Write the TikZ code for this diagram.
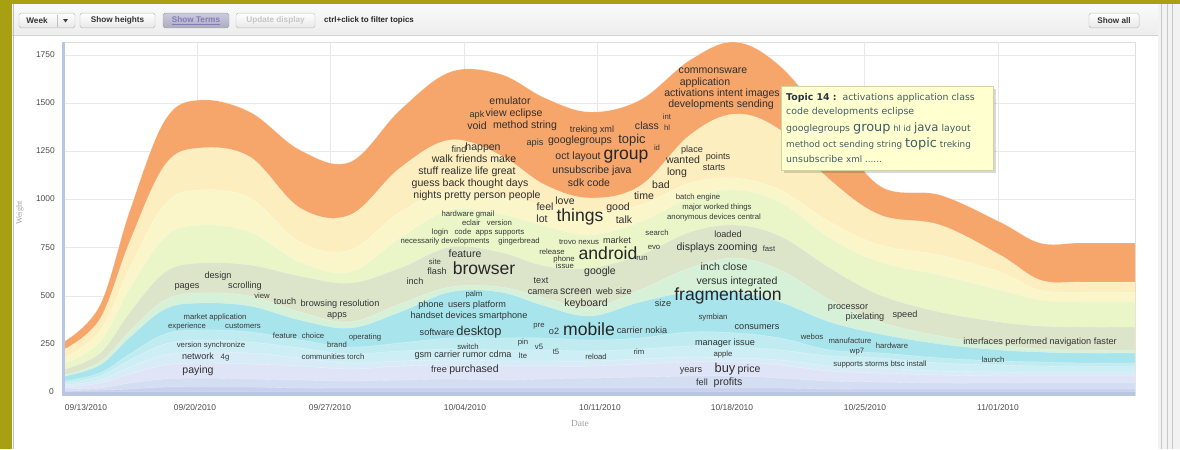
\documentclass[tikz,border=0pt]{standalone}
\usepackage{color}
\usepackage{fontspec}
\setmainfont{Liberation Sans}
\newfontfamily\tipfont{DejaVu Sans}
\newfontfamily\serifaxis{Liberation Serif}
\usepackage{tikz}

\definecolor{olivebar}{RGB}{168,160,18}
\definecolor{lay1}{RGB}{246,166,107}
\definecolor{lay2}{RGB}{252,238,190}
\definecolor{lay3}{RGB}{250,246,202}
\definecolor{lay4}{RGB}{234,245,200}
\definecolor{lay5}{RGB}{220,229,202}
\definecolor{lay6}{RGB}{214,241,216}
\definecolor{lay7}{RGB}{168,228,236}
\definecolor{lay8}{RGB}{192,236,241}
\definecolor{lay9}{RGB}{206,238,245}
\definecolor{lay10}{RGB}{215,236,247}
\definecolor{lay11}{RGB}{224,228,247}
\definecolor{lay12}{RGB}{212,222,243}
\definecolor{lay13}{RGB}{198,210,237}
\definecolor{axisblue}{RGB}{184,198,226}
\definecolor{tipfill}{RGB}{255,255,208}
\definecolor{tipedge}{RGB}{210,210,165}
\definecolor{tiptext}{RGB}{62,92,104}
\definecolor{tipdark}{RGB}{38,52,66}
\definecolor{termsfill}{RGB}{204,202,224}
\definecolor{termstext}{RGB}{128,126,180}

\begin{document}
\begin{tikzpicture}[x=0.03cm, y=-0.03cm]
% Define styles
\tikzstyle{layer} = [draw=white, draw opacity=0.45, line width=0.3pt]
\tikzstyle{wtiny} = [inner sep=0pt, text=black!78, text height=4.8pt, text depth=1.3pt, font=\fontsize{6.6}{7}\selectfont]
\tikzstyle{wsmall} = [inner sep=0pt, text=black!80, text height=5.6pt, text depth=1.6pt, font=\fontsize{7.8}{8}\selectfont]
\tikzstyle{wmed} = [inner sep=0pt, text=black!82, text height=6.5pt, text depth=1.9pt, font=\fontsize{9}{10}\selectfont]
\tikzstyle{wbig} = [inner sep=0pt, text=black!82, text height=8pt, text depth=2.3pt, font=\fontsize{11}{12}\selectfont]
\tikzstyle{whuge} = [inner sep=0pt, text=black!85, text height=10.8pt, text depth=3.2pt, font=\fontsize{15}{16}\selectfont]
\tikzstyle{button} = [draw=gray!55, rounded corners=1.5pt, top color=white, bottom color=gray!18, minimum height=0.44cm, inner sep=0pt, font=\fontsize{7}{8}\selectfont\bfseries, text=black!80]
\tikzstyle{tick} = [inner sep=0pt, text=black!70, font=\fontsize{7.2}{8}\selectfont]
\tikzstyle{grid} = [gray!18, line width=0.4pt]
\tikzstyle{tipline} = [inner sep=0pt, anchor=base west, text=tiptext, font=\tipfont\fontsize{8}{9}\selectfont]

\useasboundingbox (0,0) rectangle (1180,449);
\fill[white] (0,0) rectangle (1180,449);

% Window frame and toolbar
\fill[olivebar] (0,0) rectangle (1180,4);
\fill[olivebar] (0,0) rectangle (12,449);
\fill[top color=gray!4, bottom color=gray!14] (12,4) rectangle (1158,35);
\draw[gray!35] (12,35) -- (1158,35);
\draw[gray!50] (13,4) -- (13,449);
\fill[gray!10] (1158,4) rectangle (1180,449);
\draw[gray!45] (1161,4) -- (1161,449);
\draw[gray!45] (1167,4) -- (1167,449);
\draw[gray!45] (1172,4) -- (1172,449);

% Plot frame and grid
\draw[gray!25] (62,42) rectangle (1135,395);
\draw[grid] (62,55) -- (1135,55);
\draw[grid] (62,103) -- (1135,103);
\draw[grid] (62,151) -- (1135,151);
\draw[grid] (62,199) -- (1135,199);
\draw[grid] (62,247.5) -- (1135,247.5);
\draw[grid] (62,296) -- (1135,296);
\draw[grid] (62,344) -- (1135,344);
\draw[grid] (197,42) -- (197,392);
\draw[grid] (330,42) -- (330,392);
\draw[grid] (464,42) -- (464,392);
\draw[grid] (597,42) -- (597,392);
\draw[grid] (731,42) -- (731,392);
\draw[grid] (864,42) -- (864,392);
\draw[grid] (998,42) -- (998,392);

% Stream layers (top layer first, each one painted down to the base)
\path[layer, fill=lay1] plot[smooth, tension=0.6] coordinates {(65,341) (100,305) (130,210) (165,120) (200,100) (250,112) (300,150) (350,162) (400,110) (450,72) (500,74) (545,98) (590,112) (640,100) (690,60) (735,42) (780,66) (830,125) (880,186) (940,195) (1000,222) (1040,243) (1080,243) (1135,243)} -- (1135,392) -- (65,392) -- cycle;
\path[layer, fill=lay2] plot[smooth, tension=0.6] coordinates {(65,349) (100,319) (130,241) (165,165) (200,148) (250,157) (300,208) (350,215) (400,168) (450,140) (500,155) (545,185) (590,198) (640,186) (690,135) (735,114) (780,130) (830,180) (880,215) (940,225) (1000,255) (1040,280) (1080,282) (1135,282)} -- (1135,392) -- (65,392) -- cycle;
\path[layer, fill=lay3] plot[smooth, tension=0.6] coordinates {(65,357) (100,331) (130,267) (165,204) (200,190) (250,198) (300,242) (350,250) (400,212) (450,190) (500,196) (545,205) (590,212) (640,205) (690,183) (735,178) (780,190) (830,222) (880,245) (940,255) (1000,272) (1040,290) (1080,292) (1135,292)} -- (1135,392) -- (65,392) -- cycle;
\path[layer, fill=lay4] plot[smooth, tension=0.6] coordinates {(65,363) (100,342) (130,288) (165,237) (200,225) (250,232) (300,262) (350,272) (400,238) (450,210) (500,214) (545,226) (590,235) (640,222) (690,198) (735,190) (780,202) (830,238) (880,262) (940,275) (1000,290) (1040,300) (1080,302) (1135,302)} -- (1135,392) -- (65,392) -- cycle;
\path[layer, fill=lay5] plot[smooth, tension=0.6] coordinates {(65,369) (100,353) (130,312) (165,272) (200,263) (250,265) (300,276) (350,283) (400,268) (450,247) (500,252) (545,266) (590,268) (640,255) (690,232) (735,225) (780,236) (830,268) (880,295) (940,312) (1000,322) (1040,326) (1080,327) (1135,327)} -- (1135,392) -- (65,392) -- cycle;
\path[layer, fill=lay6] plot[smooth, tension=0.6] coordinates {(65,375) (100,362) (130,331) (165,300) (200,293) (250,296) (300,312) (350,322) (400,304) (450,287) (500,287) (545,298) (590,308) (640,290) (690,268) (735,258) (780,270) (830,300) (880,322) (940,336) (1000,345) (1040,349) (1080,350) (1135,350)} -- (1135,392) -- (65,392) -- cycle;
\path[layer, fill=lay7] plot[smooth, tension=0.6] coordinates {(65,376) (100,365) (130,337) (165,309) (200,303) (250,306) (300,320) (350,328) (400,312) (450,292) (500,292) (545,306) (590,316) (640,302) (690,292) (735,292) (780,302) (830,322) (880,334) (940,344) (1000,350) (1040,352) (1080,353) (1135,353)} -- (1135,392) -- (65,392) -- cycle;
\path[layer, fill=lay8] plot[smooth, tension=0.6] coordinates {(65,381) (100,373) (130,354) (165,334) (200,330) (250,332) (300,340) (350,347) (400,343) (450,338) (500,338) (545,338) (590,340) (640,338) (690,332) (735,333) (780,338) (830,350) (880,353) (940,358) (1000,361) (1040,362) (1080,363) (1135,363)} -- (1135,392) -- (65,392) -- cycle;
\path[layer, fill=lay9] plot[smooth, tension=0.6] coordinates {(65,383) (100,376) (130,360) (165,344) (200,340) (250,342) (300,348) (350,354) (400,351) (450,349) (500,350) (545,350) (590,351) (640,349) (690,346) (735,347) (780,350) (830,356) (880,358) (940,363) (1000,365) (1040,366) (1080,366) (1135,366)} -- (1135,392) -- (65,392) -- cycle;
\path[layer, fill=lay10] plot[smooth, tension=0.6] coordinates {(65,385) (100,380) (130,367) (165,355) (200,352) (250,353) (300,358) (350,363) (400,361) (450,360) (500,361) (545,361) (590,361) (640,359) (690,357) (735,358) (780,360) (830,366) (880,368) (940,371) (1000,372) (1040,372) (1080,372) (1135,372)} -- (1135,392) -- (65,392) -- cycle;
\path[layer, fill=lay11] plot[smooth, tension=0.6] coordinates {(65,387) (100,383) (130,374) (165,365) (200,363) (250,364) (300,366) (350,369) (400,366) (450,365) (500,366) (545,366) (590,366) (640,364) (690,362) (735,362) (780,365) (830,371) (880,373) (940,375) (1000,376) (1040,376) (1080,376) (1135,376)} -- (1135,392) -- (65,392) -- cycle;
\path[layer, fill=lay12] plot[smooth, tension=0.6] coordinates {(65,389) (100,388) (130,383) (165,379) (200,378) (250,379) (300,380) (350,381) (400,380) (450,379) (500,380) (545,379) (590,378) (640,377) (690,376) (735,376) (780,378) (830,381) (880,382) (940,383) (1000,383) (1040,383) (1080,383) (1135,383)} -- (1135,392) -- (65,392) -- cycle;
\path[layer, fill=lay13] plot[smooth, tension=0.6] coordinates {(65,391) (100,390) (130,389) (165,387) (200,387) (250,387) (300,388) (350,388) (400,388) (450,388) (500,388) (545,388) (590,388) (640,388) (690,388) (735,388) (780,388) (830,389) (880,389) (940,389) (1000,389) (1040,389) (1080,389) (1135,389)} -- (1135,392) -- (65,392) -- cycle;

% Axes
\draw[axisblue, line width=2.5pt] (63.5,42) -- (63.5,394);
\draw[axisblue, line width=3pt] (62,394) -- (1135,394);

% Axis labels
\node[tick, anchor=east] (w1750) at (55,55) {1750};
\node[tick, anchor=east] (w1500) at (55,103) {1500};
\node[tick, anchor=east] (w1250) at (55,151) {1250};
\node[tick, anchor=east] (w1000) at (55,199) {1000};
\node[tick, anchor=east] (w750) at (55,247.5) {750};
\node[tick, anchor=east] (w500) at (55,296) {500};
\node[tick, anchor=east] (w250) at (55,344) {250};
\node[tick, anchor=east] (w0) at (54,392) {0};
\node[tick] (d0913) at (86,407) {09/13/2010};
\node[tick] (d0920) at (195,407) {09/20/2010};
\node[tick] (d0927) at (330,407) {09/27/2010};
\node[tick] (d1004) at (465,407) {10/04/2010};
\node[tick] (d1011) at (600,407) {10/11/2010};
\node[tick] (d1018) at (732,407) {10/18/2010};
\node[tick] (d1025) at (865,407) {10/25/2010};
\node[tick] (d1101) at (998,407) {11/01/2010};
\node[rotate=90, inner sep=0pt, text=gray!75, font=\serifaxis\fontsize{7}{8}\selectfont] (ylabel) at (20,213) {Weight};
\node[inner sep=0pt, text=gray!75, font=\serifaxis\fontsize{8}{9}\selectfont] (xlabel) at (580,423) {Date};

% Topic terms: orange layer
\node[wmed] (emulator) at (510,102) {emulator};
\node[wsmall] (apk) at (477,115) {apk};
\node[wmed] (vieweclipse) at (514,114) {view eclipse};
\node[wmed] (void) at (477,127) {void};
\node[wmed] (methodstring) at (525,126) {method string};
\node[wsmall] (trekingxml) at (592,130) {treking xml};
\node[wmed] (classw) at (647,127) {class};
\node[wtiny] (intw) at (667,117) {int};
\node[wtiny] (hlw) at (667,128) {hl};
\node[wsmall] (apis) at (535,143) {apis};
\node[wmed] (googlegroups) at (580,141) {googlegroups};
\node[wbig] (topicw) at (632,140) {topic};
\node[wmed] (octlayout) at (578,157) {oct layout};
\node[whuge] (groupw) at (626,155) {group};
\node[wtiny] (idw) at (657,148) {id};
\node[wmed] (unsubscribe) at (592,171) {unsubscribe java};
\node[wmed] (sdkcode) at (589,184) {sdk code};
\node[wmed] (commonsware) at (713,71) {commonsware};
\node[wmed] (application) at (705,83) {application};
\node[wmed] (activations) at (722,94) {activations intent images};
\node[wmed] (developments) at (721,105) {developments sending};

% Topic terms: yellow layers
\node[wsmall] (find) at (459,150) {find};
\node[wmed] (happen) at (483,148) {happen};
\node[wmed] (walkfriends) at (474,160) {walk friends make};
\node[wmed] (stuff) at (467,172) {stuff realize life great};
\node[wmed] (guess) at (470,184) {guess back thought days};
\node[wmed] (nights) at (477,196) {nights pretty person people};
\node[wmed] (love) at (565,202) {love};
\node[wmed] (feel) at (545,208) {feel};
\node[wmed] (lot) at (542,220) {lot};
\node[whuge] (things) at (580,217) {things};
\node[wmed] (good) at (618,208) {good};
\node[wmed] (talk) at (624,221) {talk};
\node[wmed] (time) at (644,197) {time};
\node[wmed] (bad) at (661,186) {bad};
\node[wsmall] (place) at (692,150) {place};
\node[wmed] (wanted) at (683,161) {wanted};
\node[wsmall] (points) at (718,157) {points};
\node[wmed] (long) at (677,173) {long};
\node[wsmall] (starts) at (714,168) {starts};

% Topic terms: green layers
\node[wtiny] (batch) at (698,197) {batch engine};
\node[wtiny] (major) at (717,207) {major worked things};
\node[wtiny] (anonymous) at (714,217) {anonymous devices central};
\node[wtiny] (hardware) at (468,214) {hardware gmail};
\node[wtiny] (eclair) at (487,223) {eclair\ \ \ version};
\node[wtiny] (login) at (478,232) {login\ \ \ code\ \ apps supports};
\node[wtiny] (necessarily) at (445,241) {necessarily developments};
\node[wtiny] (gingerbread) at (519,241) {gingerbread};
\node[wtiny] (release) at (552,252) {release};
\node[wtiny] (trovo) at (579,242) {trovo nexus};
\node[wsmall] (market) at (617,241) {market};
\node[wtiny] (search) at (657,233) {search};
\node[wtiny] (evo) at (654,247) {evo};
\node[wtiny] (run) at (642,258) {run};
\node[wtiny] (phone) at (564,259) {phone};
\node[wtiny] (issue) at (565,266) {issue};
\node[whuge] (android) at (608,255) {android};
\node[wmed] (google) at (600,272) {google};
\node[wsmall] (loaded) at (728,235) {loaded};
\node[wmed] (displays) at (717,248) {displays zooming};
\node[wtiny] (fast) at (769,249) {fast};
\node[wmed] (feature) at (465,255) {feature};
\node[wtiny] (site) at (435,262) {site};
\node[wsmall] (flash) at (437,272) {flash};
\node[whuge] (browser) at (484,270) {browser};
\node[wsmall] (inch) at (415,282) {inch};
\node[wsmall] (text) at (541,281) {text};
\node[wsmall] (camera) at (543,292) {camera};
\node[wmed] (screen) at (576,292) {screen};
\node[wsmall] (websize) at (614,292) {web size};
\node[wmed] (keyboard) at (586,304) {keyboard};
\node[wsmall] (design) at (218,276) {design};
\node[wsmall] (pages) at (187,286) {pages};
\node[wsmall] (scrolling) at (245,286) {scrolling};
\node[wtiny] (view) at (262,296) {view};
\node[wsmall] (touch) at (285,302) {touch};
\node[wsmall] (browsing) at (340,304) {browsing resolution};
\node[wsmall] (appsw) at (337,315) {apps};
\node[wsmall] (processor) at (848,307) {processor};
\node[wsmall] (pixelating) at (865,317) {pixelating};
\node[wsmall] (speed) at (905,315) {speed};
\node[wsmall] (interfaces) at (1040,342) {interfaces performed navigation faster};
\node[wmed] (inchclose) at (724,268) {inch close};
\node[wmed] (versus) at (737,282) {versus integrated};
\node[wsmall] (sizew) at (663,304) {size};
\node[whuge] (fragmentation) at (728,296) {fragmentation};

% Topic terms: blue layers
\node[wtiny] (marketapp) at (215,317) {market application};
\node[wtiny] (experience) at (187,326) {experience};
\node[wtiny] (customers) at (243,326) {customers};
\node[wtiny] (featurec) at (285,336) {feature};
\node[wtiny] (choice) at (313,336) {choice};
\node[wtiny] (operating) at (365,337) {operating};
\node[wtiny] (brand) at (337,345) {brand};
\node[wtiny] (palm) at (474,294) {palm};
\node[wsmall] (phonew) at (431,305) {phone};
\node[wsmall] (users) at (477,305) {users platform};
\node[wsmall] (handset) at (469,316) {handset devices smartphone};
\node[wsmall] (software) at (437,333) {software};
\node[wbig] (desktop) at (479,332) {desktop};
\node[wtiny] (pre) at (539,325) {pre};
\node[wsmall] (otwo) at (554,332) {o2};
\node[whuge] (mobile) at (589,331) {mobile};
\node[wsmall] (carrier) at (642,331) {carrier nokia};
\node[wtiny] (symbian) at (713,317) {symbian};
\node[wsmall] (consumers) at (757,327) {consumers};
\node[wtiny] (webos) at (812,337) {webos};
\node[wtiny] (manufacture) at (850,341) {manufacture};
\node[wtiny] (hardwarec) at (892,346) {hardware};
\node[wtiny] (wpseven) at (857,351) {wp7};
\node[wtiny] (launch) at (993,360) {launch};
\node[wtiny] (version) at (211,345) {version synchronize};
\node[wsmall] (network) at (198,357) {network};
\node[wtiny] (fourg) at (225,357) {4g};
\node[wtiny] (communities) at (333,357) {communities torch};
\node[wtiny] (switch) at (468,347) {switch};
\node[wsmall] (gsm) at (463,355) {gsm carrier rumor cdma};
\node[wtiny] (lte) at (523,356) {lte};
\node[wtiny] (pin) at (523,342) {pin};
\node[wtiny] (vfive) at (539,347) {v5};
\node[wtiny] (tfive) at (556,352) {t5};
\node[wtiny] (reload) at (596,357) {reload};
\node[wtiny] (rim) at (639,352) {rim};
\node[wsmall] (manager) at (725,343) {manager issue};
\node[wtiny] (apple) at (723,354) {apple};
\node[wtiny] (supports) at (880,364) {supports storms btsc\ install};
\node[wmed] (paying) at (198,371) {paying};
\node[wsmall] (free) at (439,370) {free};
\node[wmed] (purchased) at (474,370) {purchased};
\node[wsmall] (years) at (691,370) {years};
\node[wbig] (buy) at (725,369) {buy};
\node[wmed] (price) at (749,370) {price};
\node[wsmall] (fell) at (702,383) {fell};
\node[wmed] (profits) at (728,383) {profits};

% Tooltip
\fill[black, opacity=0.15] (784,89) rectangle (996,173);
\filldraw[fill=tipfill, draw=tipedge] (781,86) rectangle (993,170);
\node[tipline] (tip1) at (786,100) {{\bfseries\color{tipdark}Topic 14 :}\ \ activations application class};
\node[tipline] (tip2) at (786,114.5) {code developments eclipse};
\node[tipline] (tip3) at (786,131) {googlegroups {\fontsize{11}{12}\selectfont group} {\fontsize{7}{8}\selectfont hl id} {\fontsize{10}{11}\selectfont java} layout};
\node[tipline] (tip4) at (786,147.5) {{\fontsize{7.5}{8}\selectfont method oct sending string} {\fontsize{11}{12}\selectfont topic} {\fontsize{7.5}{8}\selectfont treking}};
\node[tipline] (tip5) at (786,162) {unsubscribe {\fontsize{7.5}{8}\selectfont xml ......}};

% Toolbar buttons
\node[button, minimum width=1.68cm] (week) at (47,20.5) {};
\node[inner sep=0pt, font=\fontsize{7}{8}\selectfont\bfseries, text=black!80] (weektext) at (37,20.5) {Week};
\draw[gray!50] (57,14.5) -- (57,26.5);
\fill[black!75] (63,19) -- (68,19) -- (65.5,22.5) -- cycle;
\node[button, minimum width=2.25cm] (heights) at (117.5,20.5) {Show heights};
\node[button, minimum width=1.98cm, top color=termsfill, bottom color=termsfill!85!black, draw=gray!70, text=termstext] (terms) at (196,20.5) {\underline{Show Terms}};
\node[button, minimum width=2.37cm, text=gray!45] (update) at (275.5,20.5) {Update display};
\node[anchor=west, inner sep=0pt, font=\fontsize{6.8}{8}\selectfont\bfseries, text=black!85] (hint) at (324,20) {ctrl+click to filter topics};
\node[button, minimum width=1.5cm] (showall) at (1114,20.5) {Show all};

\end{tikzpicture}
\end{document}
